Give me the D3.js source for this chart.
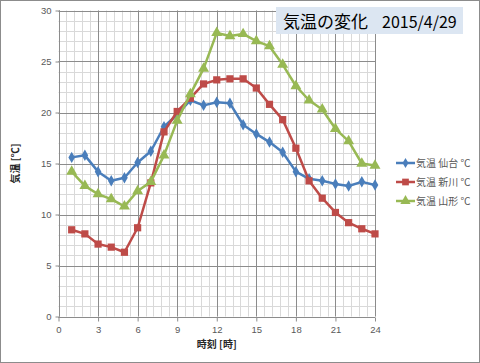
<!DOCTYPE html>
<html>
<head>
<meta charset="utf-8">
<script src="https://cdn.jsdelivr.net/npm/d3@7"></script>
<style>
  body { margin: 0; background: #fff; }
  svg { display: block; font-family: "Noto Sans CJK JP", "Noto Sans", sans-serif; }
</style>
</head>
<body>
<div id="chart"></div>
<script>
// data
var hours = d3.range(1, 25);
var sendai = [15.6, 15.8, 14.2, 13.3, 13.6, 15.1, 16.2, 18.6, 19.8, 21.2, 20.7, 21.0, 20.9, 18.8, 17.9, 17.1, 16.1, 14.2, 13.5, 13.3, 13.0, 12.8, 13.2, 12.9];
var shinkawa = [8.5, 8.1, 7.1, 6.8, 6.3, 8.7, 13.1, 18.1, 20.1, 21.4, 22.8, 23.2, 23.3, 23.3, 22.4, 20.8, 19.3, 16.5, 13.3, 11.6, 10.2, 9.2, 8.6, 8.1];
var yamagata = [14.2, 12.8, 12.0, 11.5, 10.8, 12.3, 13.2, 15.8, 19.2, 21.8, 24.3, 27.8, 27.5, 27.7, 27.0, 26.5, 24.7, 22.6, 21.2, 20.3, 18.4, 17.2, 15.0, 14.8];
var seriesNames = ["気温 仙台 ℃", "気温 新川 ℃", "気温 山形 ℃"];
var seriesColors = ["#4a7ebb", "#be4b48", "#98b954"];
var seriesShapes = [d3.symbolDiamond, d3.symbolSquare, d3.symbolTriangle];
var xTicks = [0, 3, 6, 9, 12, 15, 18, 21, 24];
var yTicks = [0, 5, 10, 15, 20, 25, 30];

var attrs = {
  svgWidth: 480,
  svgHeight: 363,
  plotLeft: 58.5,
  plotRight: 375,
  plotTop: 10.5,
  plotBottom: 316.5,
  textFill: '#595959'
};

var svg = d3.select('#chart').append('svg')
  .attr('width', attrs.svgWidth)
  .attr('height', attrs.svgHeight);

// outer border
svg.append('rect')
  .attr('x', 0.5).attr('y', 0.5)
  .attr('width', attrs.svgWidth - 1).attr('height', attrs.svgHeight - 1)
  .attr('fill', '#fff').attr('stroke', '#8c8c8c');

var x = d3.scaleLinear().domain([0, 24]).range([attrs.plotLeft, attrs.plotRight]);
var y = d3.scaleLinear().domain([0, 30]).range([attrs.plotBottom, attrs.plotTop]);

// minor grid
var grid = svg.append('g').attr('class', 'grid');
grid.selectAll('.vminor').data(d3.range(0, 24.01, 0.6)).enter().append('line')
  .attr('x1', d => Math.round(x(d)) + 0.5).attr('x2', d => Math.round(x(d)) + 0.5)
  .attr('y1', attrs.plotTop).attr('y2', attrs.plotBottom)
  .attr('stroke', '#d9d9d9');
grid.selectAll('.hminor').data(d3.range(0, 31, 1)).enter().append('line')
  .attr('y1', d => Math.round(y(d)) + 0.5).attr('y2', d => Math.round(y(d)) + 0.5)
  .attr('x1', attrs.plotLeft).attr('x2', attrs.plotRight)
  .attr('stroke', '#d9d9d9');
// major grid
grid.selectAll('.vmajor').data(xTicks).enter().append('line')
  .attr('x1', d => Math.round(x(d)) + 0.5).attr('x2', d => Math.round(x(d)) + 0.5)
  .attr('y1', attrs.plotTop).attr('y2', attrs.plotBottom)
  .attr('stroke', '#8c8c8c');
grid.selectAll('.hmajor').data(yTicks).enter().append('line')
  .attr('y1', d => Math.round(y(d)) + 0.5).attr('y2', d => Math.round(y(d)) + 0.5)
  .attr('x1', attrs.plotLeft).attr('x2', attrs.plotRight)
  .attr('stroke', '#8c8c8c');

// axes
var xAxis = svg.append('g')
  .attr('transform', 'translate(0,' + (Math.round(attrs.plotBottom) + 0.5) + ')')
  .call(d3.axisBottom(x).tickValues(xTicks).tickSize(4).tickPadding(5));
var yAxis = svg.append('g')
  .attr('transform', 'translate(' + (Math.round(attrs.plotLeft) + 0.5) + ',0)')
  .call(d3.axisLeft(y).tickValues(yTicks).tickSize(4).tickPadding(4));
[xAxis, yAxis].forEach(function (a) {
  a.selectAll('path, line').attr('stroke', '#8c8c8c');
  a.selectAll('text').attr('fill', attrs.textFill).attr('font-size', 9.5)
    .attr('font-family', '"Liberation Sans", Arial, sans-serif');
});
xAxis.select('.domain').attr('d', 'M' + x(0) + ',0H' + x(24));
yAxis.select('.domain').attr('d', 'M0,' + y(0) + 'V' + y(30));

// series
var allSeries = [sendai, shinkawa, yamagata];
var line = d3.line().x((d, i) => x(hours[i])).y(d => y(d));
allSeries.forEach(function (vals, s) {
  var g = svg.append('g').attr('class', 'series');
  g.append('path').datum(vals)
    .attr('d', line)
    .attr('fill', 'none')
    .attr('stroke', seriesColors[s])
    .attr('stroke-width', 2.5)
    .attr('stroke-linejoin', 'round');
  g.selectAll('.marker').data(vals).enter().append('path')
    .attr('transform', (d, i) => 'translate(' + x(hours[i]) + ',' + y(d) + ')')
    .attr('d', d3.symbol().type(seriesShapes[s]).size(s === 0 ? 38 : 52))
    .attr('fill', seriesColors[s]);
});

// title box
var title = svg.append('g');
title.append('rect')
  .attr('x', 276).attr('y', 7).attr('width', 187).attr('height', 27)
  .attr('fill', '#dce6f2');
title.append('text')
  .attr('x', 283).attr('y', 28)
  .attr('font-size', 17)
  .attr('fill', '#000')
  .text('気温の変化');
title.append('text')
  .attr('x', 382).attr('y', 28)
  .attr('font-size', 16)
  .attr('fill', '#000')
  .text('2015/4/29');

// legend
var legend = svg.append('g').attr('transform', 'translate(396,163)');
seriesNames.forEach(function (name, s) {
  var lg = legend.append('g').attr('transform', 'translate(0,' + s * 19 + ')');
  lg.append('line').attr('x1', 0).attr('x2', 19).attr('y1', 0).attr('y2', 0)
    .attr('stroke', seriesColors[s]).attr('stroke-width', 2.5);
  lg.append('path').attr('transform', 'translate(9.5,0)')
    .attr('d', d3.symbol().type(seriesShapes[s]).size(s === 0 ? 30 : 45))
    .attr('fill', seriesColors[s]);
  lg.append('text').attr('x', 20).attr('y', 4)
    .attr('font-size', 10).attr('fill', attrs.textFill)
    .text(name);
});

// axis titles
svg.append('text')
  .attr('x', (x(0) + x(24)) / 2).attr('y', 348)
  .attr('text-anchor', 'middle')
  .attr('font-size', 10).attr('font-weight', 'bold').attr('fill', '#262626')
  .text('時刻 [時]');
svg.append('text')
  .attr('transform', 'translate(19,' + y(15) + ') rotate(-90)')
  .attr('text-anchor', 'middle')
  .attr('font-size', 10).attr('font-weight', 'bold').attr('fill', '#262626')
  .text('気温 [℃]');
</script>
</body>
</html>
